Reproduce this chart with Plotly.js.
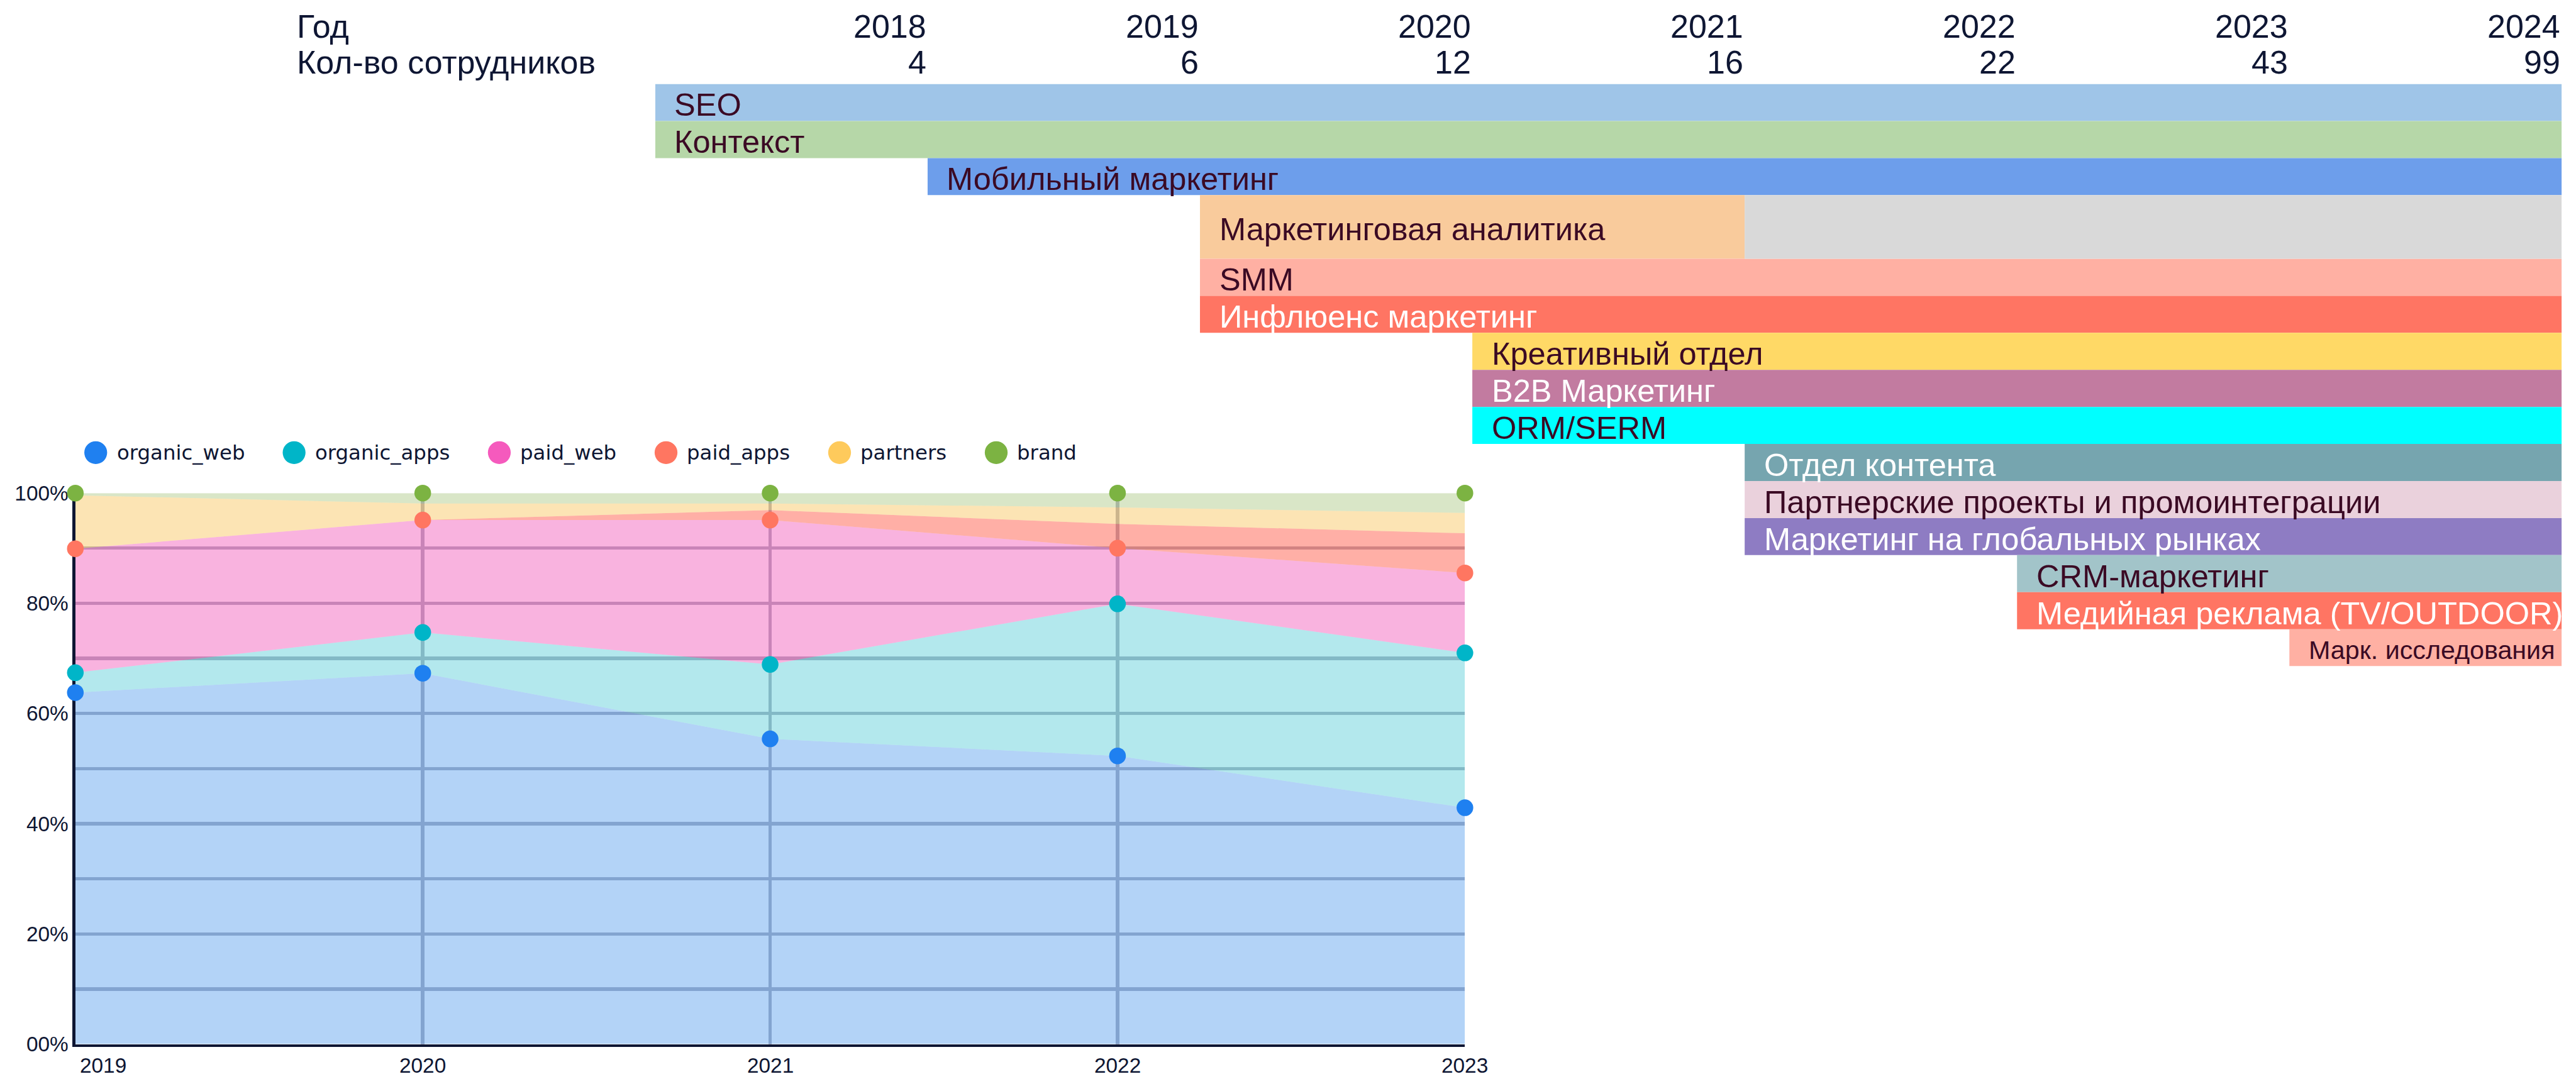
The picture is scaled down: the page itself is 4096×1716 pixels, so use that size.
<!DOCTYPE html>
<html>
<head>
<meta charset="utf-8">
<script src="https://cdn.plot.ly/plotly-3.0.1.min.js"></script>
<style>
  html, body { margin: 0; padding: 0; background: #ffffff; }
  #chart { width: 4096px; height: 1716px; }
</style>
</head>
<body>
<div id="chart"></div>
<script>
// ================= DATA =================
// Area chart: share of traffic by channel, % (stacked to 100)
const years        = [2019, 2020, 2021, 2022, 2023];
const seriesNames  = ['organic_web', 'organic_apps', 'paid_web', 'paid_apps', 'partners', 'brand'];
const organic_web  = [63.8, 67.3, 55.4, 52.3, 42.9];
const organic_apps = [3.6, 7.4, 13.5, 27.6, 28.1];
const paid_web     = [22.5, 20.4, 26.2, 10.1, 14.5];
const paid_apps    = [0.0, 0.0, 1.8, 4.4, 7.2];
const partners     = [9.7, 3.0, 1.2, 3.0, 3.7];
const brand        = [0.4, 1.9, 1.9, 2.6, 3.6];
const seriesValues = [organic_web, organic_apps, paid_web, paid_apps, partners, brand];

// Header: years and headcount
const headerYears = [2018, 2019, 2020, 2021, 2022, 2023, 2024];
const headcount   = [4, 6, 12, 16, 22, 43, 99];
const headerLabelYear  = 'Год';
const headerLabelCount = 'Кол-во сотрудников';

// Timeline of departments
const departments = [
  'SEO', 'Контекст', 'Мобильный маркетинг', 'Маркетинговая аналитика', 'SMM',
  'Инфлюенс маркетинг', 'Креативный отдел', 'B2B Маркетинг', 'ORM/SERM',
  'Отдел контента', 'Партнерские проекты и промоинтеграции',
  'Маркетинг на глобальных рынках', 'CRM-маркетинг',
  'Медийная реклама (TV/OUTDOOR)', 'Марк. исследования'
];
const deptStart = [2017, 2017, 2018, 2019, 2019, 2019, 2020, 2020, 2020, 2021, 2021, 2021, 2022, 2022, 2023];
const deptEnd   = [2024, 2024, 2024, 2021, 2024, 2024, 2024, 2024, 2024, 2024, 2024, 2024, 2024, 2024, 2024];
const timelineStart = 2017;
const timelineEnd   = 2024;

// ================= STYLE =================
const W = 4096, H = 1716, S = 0.982;
const px = v => v * S;                 // reference px -> output px
const paperX = rx => rx * S / W;
const paperY = ry => 1 - ry * S / H;

const NAVY = '#0E1633';
const DARK_TEXT = '#3B0A24';
const TICK_FONT = { family: '"Liberation Sans", Arial, sans-serif', size: px(34), color: NAVY };
const HEAD_FONT = { family: '"Liberation Sans", Arial, sans-serif', size: px(53), color: NAVY };
const BAR_FONT_FAMILY = '"Liberation Sans", Arial, sans-serif';
const BAR_FONT_SIZE = px(51.5);
const LEG_FAMILY = 'DejaVu Sans';
const LEG_SIZE = px(33);

const LINE_COLOR = {
  organic_web: '#1F80F0', organic_apps: '#00B5C8', paid_web: '#F55ABD',
  paid_apps: '#FF7661', partners: '#FECA5C', brand: '#7CB342'
};
const FILL_COLOR = {
  organic_web: 'rgba(2,108,228,0.30)',
  organic_apps: 'rgba(2,178,195,0.30)',
  paid_web: 'rgba(235,2,148,0.30)',
  paid_apps: 'rgba(255,27,0,0.35)',
  partners: 'rgba(245,165,8,0.30)',
  brand: 'rgba(128,172,68,0.30)'
};
// which stacked levels carry a visible marker (and in which colour)
const MARKER_COLOR = {
  organic_web: '#1F80F0', organic_apps: '#00B5C8', paid_web: '#FF7661', brand: '#7CB342'
};
const GRID = 'rgb(186,188,200)';
const GRID_W = px(5.5);

const DEPT_COLOR = ['#9FC5E8', '#B6D7A8', '#6D9EEB', '#F9CB9C', '#FFB0A3', '#FF7563', '#FFD966',
  '#C27BA0', '#00FFFF', '#76A5AF', '#EAD1DC', '#8E7CC3', '#A2C4C9', '#FF7563', '#FFB0A3'];
const WHITE_TEXT = new Set(['Инфлюенс маркетинг', 'B2B Маркетинг', 'Отдел контента',
  'Маркетинг на глобальных рынках', 'Медийная реклама (TV/OUTDOOR)']);
const ROW_SCALE = { 'Маркетинговая аналитика': 103 / 60 };
const SMALL_LABEL = { 'Марк. исследования': px(42) };
const INACTIVE_COLOR = '#D9D9D9';

// ================= BUILD =================
const traces = [];
const shapes = [];
const annotations = [];

// --- stacked areas ---
seriesNames.forEach((name, i) => {
  traces.push({
    type: 'scatter', x: years, y: seriesValues[i], name: name,
    stackgroup: 'share', mode: 'none', fillcolor: FILL_COLOR[name],
    line: { width: 0 }, hoverinfo: 'skip', showlegend: false,
    xaxis: 'x', yaxis: 'y'
  });
});
// --- stacked markers (separate group so they sit on top of all fills) ---
seriesNames.forEach((name, i) => {
  traces.push({
    type: 'scatter', x: years, y: seriesValues[i], name: name + ' pts',
    stackgroup: 'points', fill: 'none',
    mode: MARKER_COLOR[name] ? 'markers' : 'none',
    marker: { size: px(27), color: MARKER_COLOR[name] || 'rgba(0,0,0,0)' },
    cliponaxis: false, hoverinfo: 'skip', showlegend: false,
    xaxis: 'x', yaxis: 'y'
  });
});

// --- x tick labels of the area chart ---
years.forEach((yr, i) => {
  annotations.push({
    xref: 'x', yref: 'paper', x: yr, y: paperY(1726),
    xanchor: i === 0 ? 'left' : 'center', yanchor: 'middle',
    xshift: i === 0 ? px(5) : 0,
    text: String(yr), showarrow: false, font: TICK_FONT
  });
});

// --- custom legend (big round swatches) ---
const ctx = document.createElement('canvas').getContext('2d');
ctx.font = LEG_SIZE + 'px "' + LEG_FAMILY + '"';
let lx = px(155);
const legY = paperY(733);
const r = px(18.5);
seriesNames.forEach(name => {
  shapes.push({
    type: 'circle', xref: 'paper', yref: 'paper', xsizemode: 'pixel', ysizemode: 'pixel',
    xanchor: lx / W, yanchor: legY, x0: -r, x1: r, y0: -r, y1: r,
    fillcolor: LINE_COLOR[name], line: { width: 0 }, layer: 'above'
  });
  annotations.push({
    xref: 'paper', yref: 'paper', x: (lx + px(32)) / W, y: legY,
    xanchor: 'left', yanchor: 'middle', text: name, showarrow: false,
    font: { family: LEG_FAMILY, size: LEG_SIZE, color: NAVY }
  });
  lx += px(34) + ctx.measureText(name).width + px(80);
});

// --- timeline rows ---
let acc = 0;
const rowCenter = [], rowWidth = [];
departments.forEach(d => {
  const h = ROW_SCALE[d] || 1;
  rowCenter.push(acc + h / 2);
  rowWidth.push(h);
  acc += h;
});

traces.push({
  type: 'bar', orientation: 'h', xaxis: 'x2', yaxis: 'y2',
  y: rowCenter, base: deptStart, x: deptEnd.map((e, i) => e - deptStart[i]),
  width: rowWidth, marker: { color: DEPT_COLOR, line: { width: 0 } },
  hoverinfo: 'skip', showlegend: false
});
const inact = departments.map((d, i) => i).filter(i => deptEnd[i] < timelineEnd);
traces.push({
  type: 'bar', orientation: 'h', xaxis: 'x2', yaxis: 'y2',
  y: inact.map(i => rowCenter[i]), base: inact.map(i => deptEnd[i]),
  x: inact.map(i => timelineEnd - deptEnd[i]), width: inact.map(i => rowWidth[i]),
  marker: { color: INACTIVE_COLOR, line: { width: 0 } },
  hoverinfo: 'skip', showlegend: false
});

departments.forEach((d, i) => {
  annotations.push({
    xref: 'x2', yref: 'y2', x: deptStart[i], y: rowCenter[i],
    xanchor: 'left', yanchor: 'middle', xshift: px(29), yshift: -px(4),
    text: d, showarrow: false,
    font: { family: BAR_FONT_FAMILY, size: SMALL_LABEL[d] || BAR_FONT_SIZE,
            color: WHITE_TEXT.has(d) ? '#FFFFFF' : DARK_TEXT }
  });
});

// --- header ---
annotations.push({ xref: 'paper', yref: 'paper', x: paperX(479), y: paperY(42.5),
  xanchor: 'left', yanchor: 'middle', text: headerLabelYear, showarrow: false, font: HEAD_FONT });
annotations.push({ xref: 'paper', yref: 'paper', x: paperX(479), y: paperY(101),
  xanchor: 'left', yanchor: 'middle', text: headerLabelCount, showarrow: false, font: HEAD_FONT });
headerYears.forEach((yr, i) => {
  annotations.push({ xref: 'x2', yref: 'paper', x: yr, y: paperY(42.5), xanchor: 'right',
    yanchor: 'middle', text: String(yr), showarrow: false, font: HEAD_FONT });
  annotations.push({ xref: 'x2', yref: 'paper', x: yr, y: paperY(101), xanchor: 'right',
    yanchor: 'middle', text: String(headcount[i]), showarrow: false, font: HEAD_FONT });
});

const layout = {
  width: W, height: H,
  margin: { l: 0, r: 0, t: 0, b: 0, pad: 0 },
  paper_bgcolor: '#ffffff', plot_bgcolor: 'rgba(0,0,0,0)',
  showlegend: false, barmode: 'overlay',
  font: { family: '"Liberation Sans", Arial, sans-serif', color: NAVY },
  xaxis: {
    domain: [paperX(122), paperX(2372)], range: [years[0], years[years.length - 1]],
    anchor: 'y', dtick: 1, tick0: years[0], showgrid: true, gridcolor: GRID, gridwidth: GRID_W,
    showticklabels: false, ticks: '', zeroline: false,
    showline: true, linecolor: NAVY, linewidth: px(5), layer: 'below traces', fixedrange: true
  },
  yaxis: {
    // tiny headroom above 100 so floating-point sums of exactly 100 are not culled
    domain: [paperY(1691), paperY(798.5)], range: [0, 100.001], anchor: 'x',
    dtick: 20, tick0: 0, tickformat: '02d', ticksuffix: '%',
    showgrid: true, gridcolor: GRID, gridwidth: GRID_W,
    minor: { dtick: 10, tick0: 0, showgrid: true, gridcolor: GRID, gridwidth: GRID_W },
    ticks: '', ticklabelstandoff: px(10), tickfont: TICK_FONT, zeroline: false,
    showline: true, linecolor: NAVY, linewidth: px(4.5), layer: 'below traces', fixedrange: true
  },
  xaxis2: {
    domain: [paperX(1061), paperX(4148)], range: [timelineStart, timelineEnd], anchor: 'y2',
    visible: false, fixedrange: true
  },
  yaxis2: {
    domain: [paperY(1079), paperY(136)], range: [acc, 0], anchor: 'x2',
    visible: false, fixedrange: true
  },
  shapes: shapes,
  annotations: annotations
};

Plotly.newPlot('chart', traces, layout, { staticPlot: true, displayModeBar: false });
</script>
</body>
</html>
